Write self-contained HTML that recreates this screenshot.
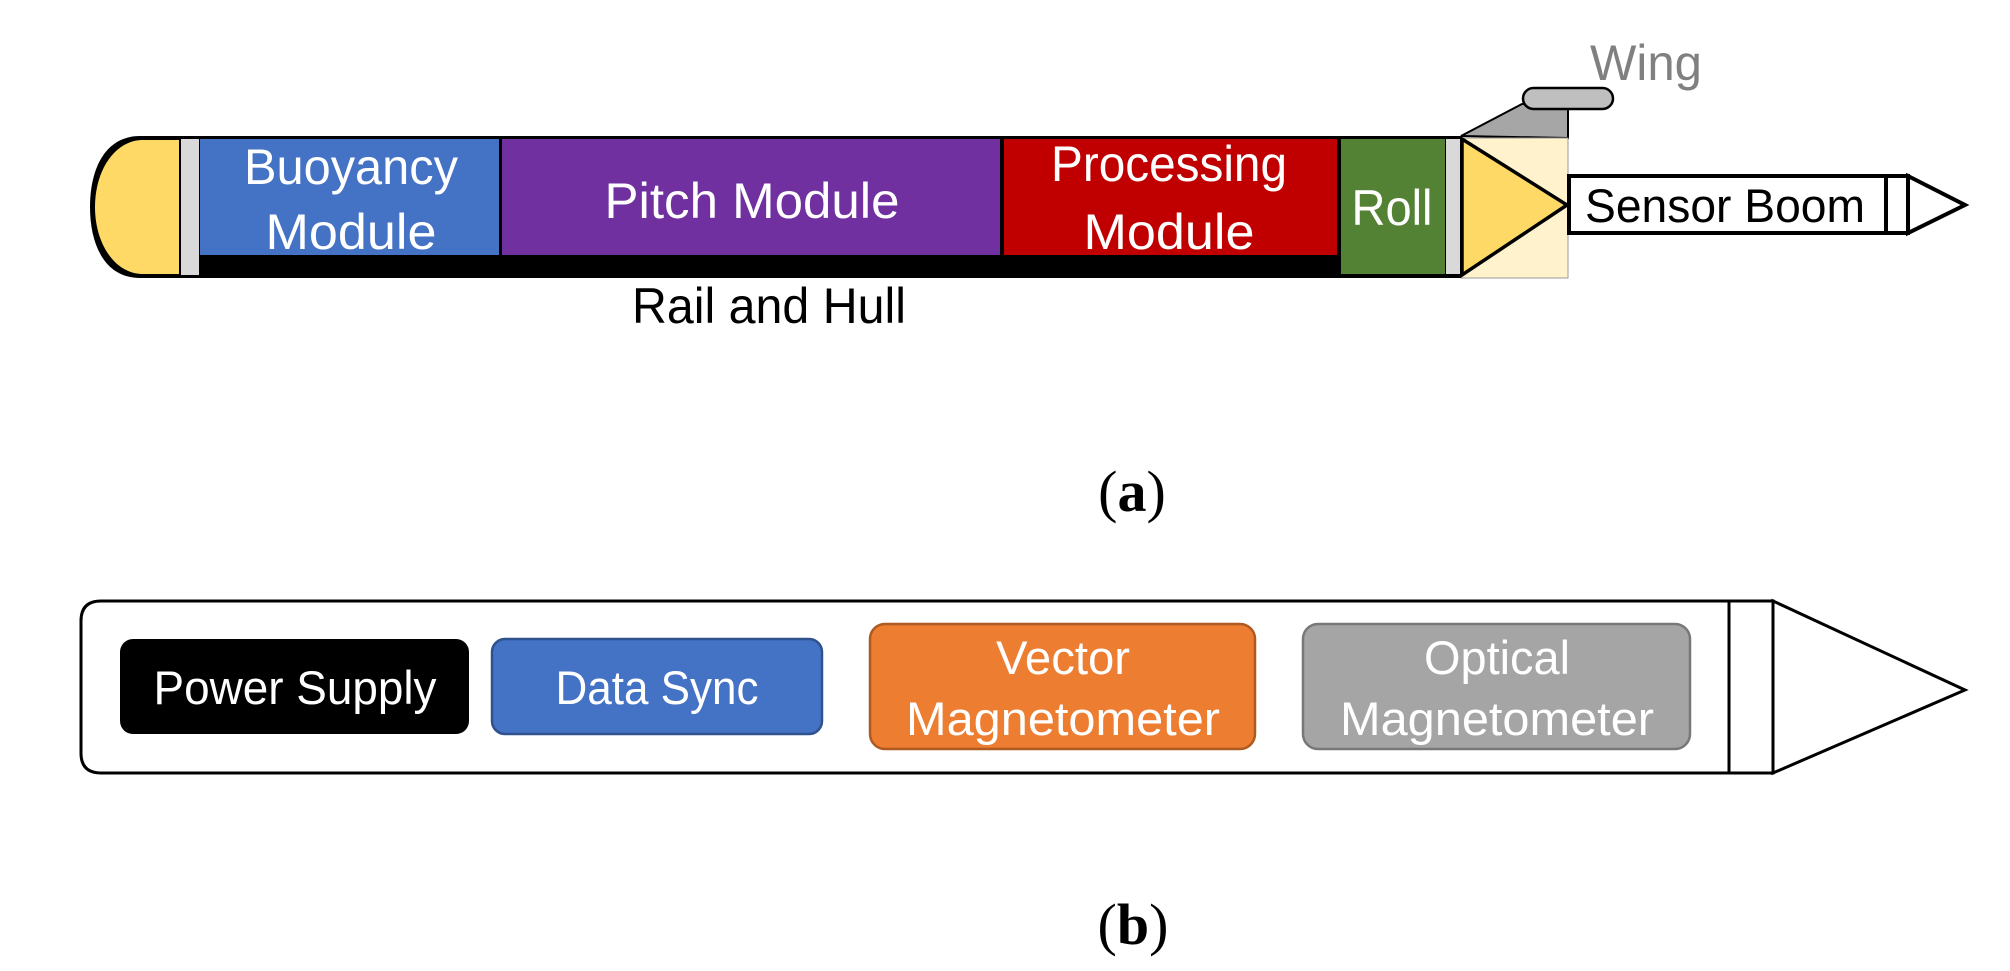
<!DOCTYPE html>
<html><head><meta charset="utf-8"><style>html,body{margin:0;padding:0;background:#fff}svg{display:block}</style></head>
<body>
<svg width="2010" height="971" viewBox="0 0 2010 971" xmlns="http://www.w3.org/2000/svg" font-family="Liberation Sans, sans-serif">
<path d="M140,136 L1461,136 L1461,278 L140,278 C105,278 90,245 90,207 C90,169 105,136 140,136 Z" fill="#000"/>
<path d="M179,140 L143,140 C115,140 95,170 95,207 C95,244 115,274 143,274 L179,274 Z" fill="#FFD966"/>
<rect x="181" y="139" width="18" height="136" fill="#D9D9D9"/>
<rect x="200" y="139" width="299" height="116" fill="#4472C4"/>
<rect x="502" y="139" width="498" height="116" fill="#7030A0"/>
<rect x="1004" y="139" width="333" height="116" fill="#C00000"/>
<rect x="1341" y="139" width="104" height="135" fill="#548235"/>
<rect x="1446" y="139" width="14" height="135" fill="#D9D9D9"/>
<polygon points="1461,136 1522,104 1568,104 1568,138" fill="#A6A6A6" stroke="#000" stroke-width="2"/>
<rect x="1523" y="88" width="90" height="21" rx="10.5" fill="#BFBFBF" stroke="#000" stroke-width="2.5"/>
<rect x="1461" y="138" width="107" height="140" fill="#FFF2CC" stroke="#999" stroke-width="1"/>
<polygon points="1462,139 1567,205 1462,275" fill="#FFD966" stroke="#000" stroke-width="3.5"/>
<rect x="1569" y="176" width="339" height="57" fill="#fff" stroke="#000" stroke-width="4"/>
<line x1="1886" y1="176" x2="1886" y2="233" stroke="#000" stroke-width="4"/>
<polygon points="1908,176 1965,205 1908,233" fill="#fff" stroke="#000" stroke-width="4"/>
<g fill="#fff" font-size="50">
<text x="351" y="184" text-anchor="middle" textLength="214" lengthAdjust="spacingAndGlyphs">Buoyancy</text>
<text x="351" y="249" text-anchor="middle" textLength="171" lengthAdjust="spacingAndGlyphs">Module</text>
<text x="752" y="218" text-anchor="middle" textLength="295" lengthAdjust="spacingAndGlyphs">Pitch Module</text>
<text x="1169" y="181" text-anchor="middle" textLength="236" lengthAdjust="spacingAndGlyphs">Processing</text>
<text x="1169" y="249" text-anchor="middle" textLength="171" lengthAdjust="spacingAndGlyphs">Module</text>
<text x="1392" y="225" text-anchor="middle" textLength="81" lengthAdjust="spacingAndGlyphs">Roll</text>
</g>
<text x="1725" y="222" text-anchor="middle" font-size="47" textLength="280" lengthAdjust="spacingAndGlyphs" fill="#000">Sensor Boom</text>
<text x="769" y="323" text-anchor="middle" font-size="50" textLength="274" lengthAdjust="spacingAndGlyphs" fill="#000">Rail and Hull</text>
<text x="1646" y="80" text-anchor="middle" font-size="50" textLength="112" lengthAdjust="spacingAndGlyphs" fill="#808080">Wing</text>
<text x="1132" y="511" text-anchor="middle" font-family="Liberation Serif, serif" font-size="58" fill="#000"><tspan>(</tspan><tspan font-weight="bold">a</tspan><tspan>)</tspan></text>

<path d="M1729,601 L101,601 Q81,601 81,621 L81,753 Q81,773 101,773 L1729,773" fill="#fff" stroke="#000" stroke-width="3"/>
<rect x="1729" y="601" width="44" height="172" fill="#fff" stroke="#000" stroke-width="3"/>
<polygon points="1773,601 1965,690 1773,773" fill="#fff" stroke="#000" stroke-width="3"/>
<rect x="120" y="639" width="349" height="95" rx="13" fill="#000"/>
<rect x="492" y="639" width="330" height="95" rx="13" fill="#4472C4" stroke="#2F528F" stroke-width="2.5"/>
<rect x="870" y="624" width="385" height="125" rx="15" fill="#ED7D31" stroke="#AE5A21" stroke-width="2.5"/>
<rect x="1303" y="624" width="387" height="125" rx="15" fill="#A5A5A5" stroke="#787878" stroke-width="2.5"/>
<g fill="#fff" font-size="47">
<text x="295" y="704" text-anchor="middle" textLength="283" lengthAdjust="spacingAndGlyphs">Power Supply</text>
<text x="657" y="704" text-anchor="middle" textLength="203" lengthAdjust="spacingAndGlyphs">Data Sync</text>
<text x="1063" y="674" text-anchor="middle" textLength="134" lengthAdjust="spacingAndGlyphs">Vector</text>
<text x="1063" y="735" text-anchor="middle" textLength="314" lengthAdjust="spacingAndGlyphs">Magnetometer</text>
<text x="1497" y="674" text-anchor="middle" textLength="146" lengthAdjust="spacingAndGlyphs">Optical</text>
<text x="1497" y="735" text-anchor="middle" textLength="314" lengthAdjust="spacingAndGlyphs">Magnetometer</text>
</g>
<text x="1133" y="944" text-anchor="middle" font-family="Liberation Serif, serif" font-size="58" fill="#000"><tspan>(</tspan><tspan font-weight="bold">b</tspan><tspan>)</tspan></text>
</svg>
</body></html>
